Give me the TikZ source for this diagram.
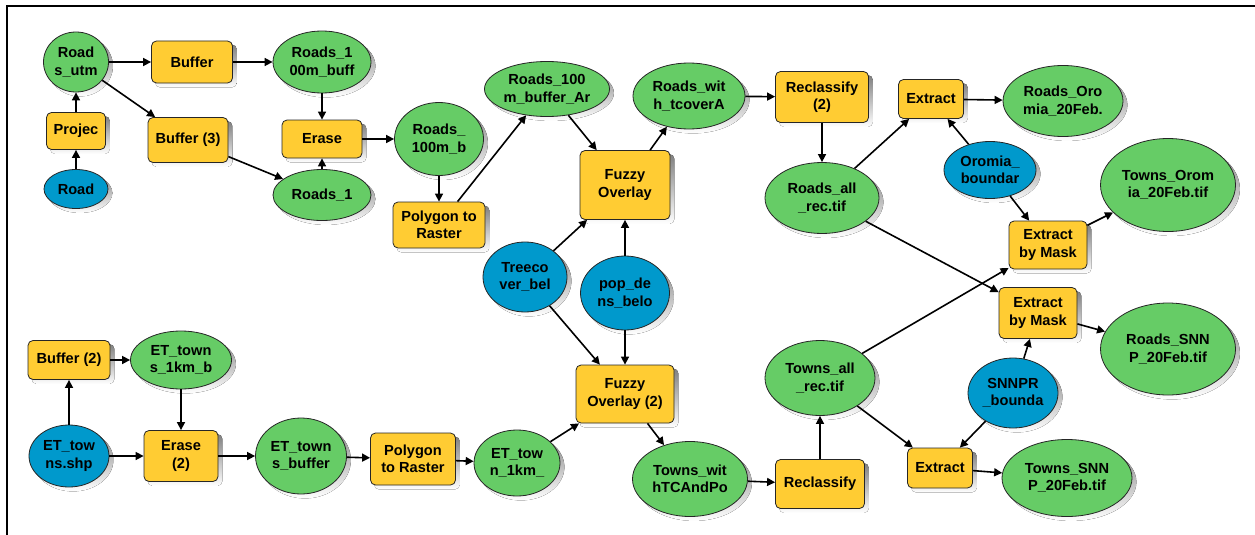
\documentclass[tikz,border=0pt]{standalone}
\usepackage{fontspec}
\setmainfont{Liberation Sans}
\usetikzlibrary{shapes.geometric,arrows.meta,calc,backgrounds}
\definecolor{dgreen}{RGB}{102,204,102}
\definecolor{dyellow}{RGB}{255,204,51}
\definecolor{dblue}{RGB}{0,153,204}
\definecolor{shade}{RGB}{165,165,165}
\newcommand\myeshadow[1]{\fill[shade] let \p1=($(#1.east)-(#1.center)$), \p2=($(#1.north)-(#1.center)$) in ([shift={(4pt,-4pt)}]#1.center) ellipse [x radius={veclen(\x1,\y1)}, y radius={veclen(\x2,\y2)}];}
\newcommand\myrshadow[1]{\fill[shade, rounded corners=5pt] ([shift={(4pt,-4pt)}]#1.south west) rectangle ([shift={(4pt,-4pt)}]#1.north east);}
\begin{document}
\begin{tikzpicture}[x=1pt,y=-1pt,
 base/.style={draw=black!85, line width=0.8pt, inner sep=0pt, align=center,
   font=\fontsize{14.6}{17.5}\selectfont\bfseries},
 dat/.style={base, ellipse, fill=dgreen},
 inp/.style={base, ellipse, fill=dblue},
 tool/.style={base, rectangle, rounded corners=5pt, fill=dyellow},
 sz/.style 2 args={minimum width=#1pt, minimum height=#2pt},
 conn/.style={line width=1.6pt, -{Triangle[length=8pt,width=8pt]}}
]
\useasboundingbox (0,0) rectangle (1255,535);
\draw[line width=2pt] (7,535) -- (7,6.3) -- (1255,6.3);

\node[dat, sz={65}{60}] (rutm) at (76,62) {Road\\s\_utm};
\node[tool, sz={81}{42}] (buf) at (192,62) {Buffer};
\node[dat, sz={98}{62}] (r100buff) at (322,62) {Roads\_1\\00m\_buff};
\node[tool, sz={59}{37}] (proj) at (76,131) {Projec};
\node[inp, sz={64}{39}] (road) at (76,189) {Road};
\node[tool, sz={80}{45}] (buf3) at (188,140) {Buffer (3)};
\node[tool, sz={80}{38}] (erase) at (322,139) {Erase};
\node[dat, sz={98}{51}] (r1) at (322,195) {Roads\_1};
\node[dat, sz={89}{73}] (r100b) at (439,139) {Roads\_\\100m\_b};
\node[tool, sz={92}{46}] (p2r) at (439,225) {Polygon to\\Raster};
\node[dat, sz={125}{55}] (r100ar) at (547,89) {Roads\_100\\m\_buffer\_Ar};
\node[dat, sz={112}{66}] (rwt) at (689,96) {Roads\_wit\\h\_tcoverA};
\node[tool, sz={90}{69}] (fo) at (625,185) {Fuzzy\\Overlay};
\node[inp, sz={84}{70}] (tree) at (525,277) {Treeco\\ver\_bel};
\node[inp, sz={89}{74}] (pop) at (625,293) {pop\_de\\ns\_belo};
\node[tool, sz={93}{51}] (rc2) at (822,97) {Reclassify\\(2)};
\node[tool, sz={65}{39}] (ext1) at (931,99) {Extract};
\node[dat, sz={120}{71}] (rorom) at (1063,101) {Roads\_Oro\\mia\_20Feb.};
\node[dat, sz={114}{71}] (rall) at (822,198) {Roads\_all\\\_rec.tif};
\node[inp, sz={92}{57}] (orom) at (990,170) {Oromia\_\\boundar};
\node[dat, sz={135}{93}] (torom) at (1168,185) {Towns\_Orom\\ia\_20Feb.tif};
\node[tool, sz={78}{48}] (ebm1) at (1048,245) {Extract\\by Mask};
\node[tool, sz={78}{51}] (ebm2) at (1038,313) {Extract\\by Mask};
\node[dat, sz={135}{92}] (rsnnp) at (1168,349) {Roads\_SNN\\P\_20Feb.tif};
\node[inp, sz={90}{70}] (snnpr) at (1013,393) {SNNPR\\\_bounda};
\node[dat, sz={110}{75}] (tall) at (820,378) {Towns\_all\\\_rec.tif};
\node[tool, sz={65}{40}] (ext2) at (940,468) {Extract};
\node[dat, sz={130}{77}] (tsnnp) at (1067,478) {Towns\_SNN\\P\_20Feb.tif};
\node[tool, sz={89}{49}] (rc) at (820,484) {Reclassify};
\node[tool, sz={98}{58}] (fo2) at (625,394) {Fuzzy\\Overlay (2)};
\node[dat, sz={86}{66}] (et1km) at (517,463) {ET\_tow\\n\_1km\_};
\node[dat, sz={115}{75}] (twtc) at (690,479) {Towns\_wit\\hTCAndPo};
\node[tool, sz={85}{52}] (p2r2) at (413,459) {Polygon\\to Raster};
\node[tool, sz={82}{39}] (buf2) at (69,360) {Buffer (2)};
\node[dat, sz={101}{58}] (et1kmb) at (181,360) {ET\_town\\s\_1km\_b};
\node[inp, sz={80}{62}] (etshp) at (69,456) {ET\_tow\\ns.shp};
\node[tool, sz={74}{51}] (erase2) at (181,456) {Erase\\(2)};
\node[dat, sz={91}{76}] (etbuf) at (301,456) {ET\_town\\s\_buffer};

\begin{scope}[on background layer]
\foreach \nm in {rutm,r100buff,road,r1,r100b,r100ar,rwt,tree,pop,rorom,rall,orom,torom,rsnnp,snnpr,tall,tsnnp,et1km,twtc,et1kmb,etshp,etbuf}{\myeshadow{\nm}}
\foreach \nm in {buf,proj,buf3,erase,p2r,fo,rc2,ext1,ebm1,ebm2,ext2,rc,fo2,p2r2,buf2,erase2}{\myrshadow{\nm}}
\end{scope}

\draw[conn] (road) -- (proj);
\draw[conn] (proj) -- (rutm);
\draw[conn] (rutm) -- (buf);
\draw[conn] (rutm) -- (buf3);
\draw[conn] (buf) -- (r100buff);
\draw[conn] (r100buff) -- (erase);
\draw[conn] (buf3) -- (r1);
\draw[conn] (r1) -- (erase);
\draw[conn] (erase) -- (r100b);
\draw[conn] (r100b) -- (p2r);
\draw[conn] (p2r) -- (r100ar);
\draw[conn] (r100ar) -- (fo);
\draw[conn] (tree) -- (fo);
\draw[conn] (pop) -- (fo);
\draw[conn] (fo) -- (rwt);
\draw[conn] (rwt) -- (rc2);
\draw[conn] (rc2) -- (rall);
\draw[conn] (rall) -- (ext1);
\draw[conn] (orom) -- (ext1);
\draw[conn] (ext1) -- (rorom);
\draw[conn] (rall) -- (ebm2);
\draw[conn] (orom) -- (ebm1);
\draw[conn] (tall) -- (ebm1);
\draw[conn] (ebm1) -- (torom);
\draw[conn] (ebm2) -- (rsnnp);
\draw[conn] (snnpr) -- (ebm2);
\draw[conn] (snnpr) -- (ext2);
\draw[conn] (tall) -- (ext2);
\draw[conn] (ext2) -- (tsnnp);
\draw[conn] (rc) -- (tall);
\draw[conn] (twtc) -- (rc);
\draw[conn] (fo2) -- (twtc);
\draw[conn] (et1km) -- (fo2);
\draw[conn] (tree) -- (fo2);
\draw[conn] (pop) -- (fo2);
\draw[conn] (p2r2) -- (et1km);
\draw[conn] (etbuf) -- (p2r2);
\draw[conn] (erase2) -- (etbuf);
\draw[conn] (etshp) -- (erase2);
\draw[conn] (etshp) -- (buf2);
\draw[conn] (buf2) -- (et1kmb);
\draw[conn] (et1kmb) -- (erase2);
\end{tikzpicture}
\end{document}
